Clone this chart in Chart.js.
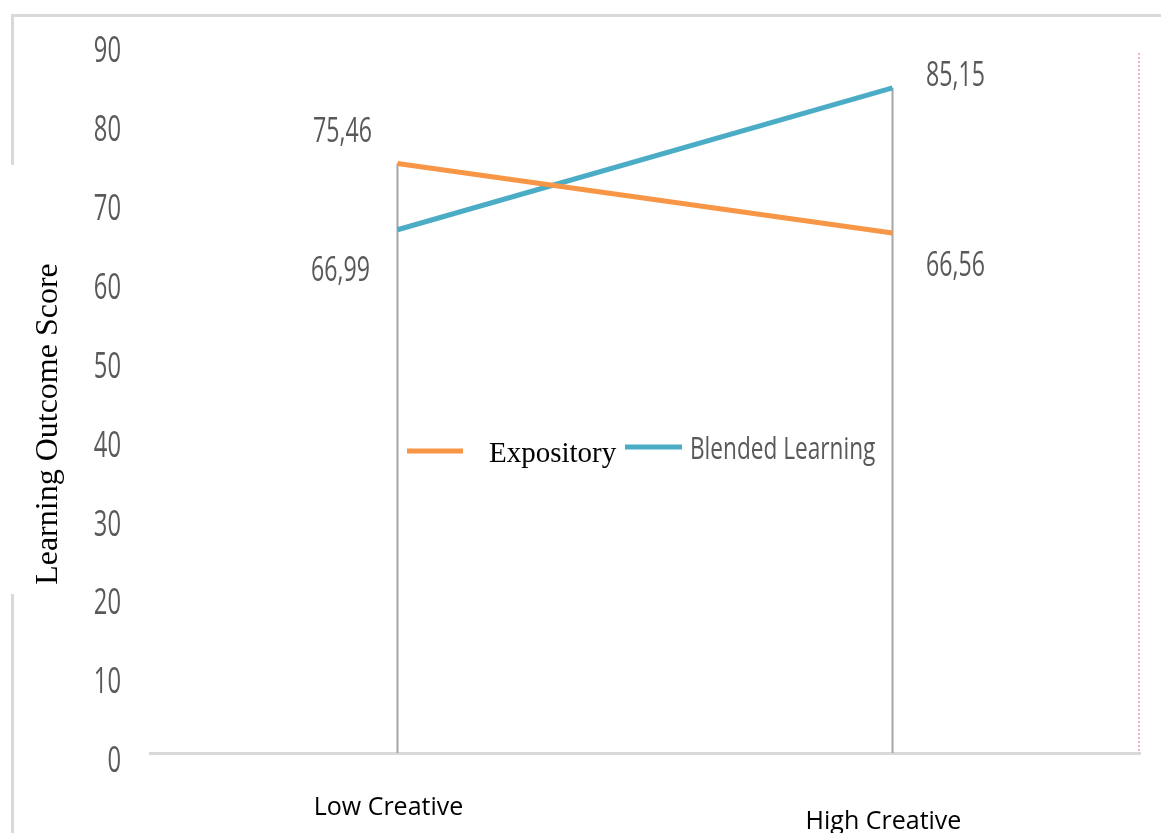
<!DOCTYPE html>
<html>
<head>
<meta charset="utf-8">
<script src="https://cdn.jsdelivr.net/npm/chart.js@4.4.1/dist/chart.umd.min.js"></script>
<style>
  html, body { margin: 0; padding: 0; background: #fff; }
  #wrap { position: relative; width: 1161px; height: 833px; overflow: hidden; }
  .frame { position: absolute; background: #d9d9d9; }
  #chart { position: absolute; left: 0; top: 0; }
</style>
</head>
<body>
<div id="wrap">
  <div class="frame" style="left:11px; top:14px; width:1150px; height:3px"></div>
  <div class="frame" style="left:11px; top:14px; width:3px; height:151px"></div>
  <div class="frame" style="left:11px; top:594px; width:3px; height:239px"></div>
  <canvas id="chart" width="1161" height="833"></canvas>
</div>
<script>
// data
var categories = ['Low Creative', 'High Creative'];
var expository = [75.46, 66.56];
var blended = [66.99, 85.15];
var seriesNames = ['Expository', 'Blended Learning'];
var yTitle = 'Learning Outcome Score';

var sansFont = "'Open Sans', sans-serif";
var serifFont = "'Liberation Serif', 'Times New Roman', serif";
var textGray = '#595959';
var orange = '#F79646';
var blue = '#4BACC6';

// label offsets from each point (dataset -> index)
var labelOffsets = [
  [{ dx: -55, dy: -31 }, { dx: 63, dy: 33 }],
  [{ dx: -57, dy: 42 }, { dx: 63, dy: -12 }]
];
// the category labels sit at slightly different heights
var catLabelY = [808, 822];

function fmt(v) {
  return v.toFixed(2).replace('.', ',');
}

// text squeezed horizontally (the original font is a condensed one)
function squeezed(ctx, text, x, y, size, sx, align) {
  ctx.save();
  ctx.font = size + 'px ' + sansFont;
  ctx.translate(x, y);
  ctx.scale(sx, 1);
  ctx.textAlign = align;
  ctx.textBaseline = 'middle';
  ctx.fillText(text, 0, 0);
  ctx.restore();
}

// vertical drop lines from the highest point to the axis
var dropLines = {
  id: 'dropLines',
  beforeDatasetsDraw: function(chart) {
    var ctx = chart.ctx;
    var area = chart.chartArea;
    var y = chart.scales.y;
    ctx.save();
    ctx.strokeStyle = '#a6a6a6';
    ctx.lineWidth = 2;
    categories.forEach(function(c, i) {
      var top = Math.max(expository[i], blended[i]);
      var x = chart.getDatasetMeta(0).data[i].x;
      ctx.beginPath();
      ctx.moveTo(x, y.getPixelForValue(top));
      ctx.lineTo(x, area.bottom);
      ctx.stroke();
    });
    // dotted edge on the right
    ctx.strokeStyle = 'rgba(220,70,80,0.8)';
    ctx.lineWidth = 1;
    ctx.setLineDash([2, 2]);
    ctx.beginPath();
    ctx.moveTo(area.right - 1, area.top + 3);
    ctx.lineTo(area.right - 1, area.bottom);
    ctx.stroke();
    ctx.restore();
  }
};

// axis texts, value labels and the in-plot legend
var texts = {
  id: 'texts',
  afterDatasetsDraw: function(chart) {
    var ctx = chart.ctx;
    var xs = chart.scales.x;
    var ys = chart.scales.y;
    ctx.save();
    ctx.fillStyle = textGray;

    // y tick labels (they drift a little below their value in the original)
    ys.ticks.forEach(function(t) {
      var drift = 9 - t.value * 0.08;
      squeezed(ctx, String(t.value), 121, ys.getPixelForValue(t.value) + drift, 36, 0.66, 'right');
    });

    // category labels
    ctx.fillStyle = '#000';
    ctx.font = '25px ' + sansFont;
    ctx.textAlign = 'center';
    ctx.textBaseline = 'middle';
    categories.forEach(function(c, i) {
      ctx.fillText(c, xs.getPixelForValue(i) - 9, catLabelY[i]);
    });

    // y title
    ctx.save();
    ctx.translate(49, 424);
    ctx.rotate(-Math.PI / 2);
    ctx.font = '32px ' + serifFont;
    ctx.fillText(yTitle, 0, 0);
    ctx.restore();

    // value labels
    ctx.fillStyle = textGray;
    chart.data.datasets.forEach(function(ds, d) {
      var meta = chart.getDatasetMeta(d);
      meta.data.forEach(function(pt, i) {
        var o = labelOffsets[d][i];
        squeezed(ctx, fmt(ds.data[i]), pt.x + o.dx, pt.y + o.dy, 34, 0.68, 'center');
      });
    });

    // legend
    ctx.lineWidth = 5;
    ctx.strokeStyle = orange;
    ctx.beginPath();
    ctx.moveTo(407, 451);
    ctx.lineTo(463, 451);
    ctx.stroke();
    ctx.strokeStyle = blue;
    ctx.beginPath();
    ctx.moveTo(625, 447);
    ctx.lineTo(682, 447);
    ctx.stroke();

    ctx.textAlign = 'left';
    ctx.textBaseline = 'alphabetic';
    ctx.fillStyle = '#000';
    ctx.font = '29px ' + serifFont;
    ctx.fillText(seriesNames[0], 489, 462);
    ctx.fillStyle = textGray;
    squeezed(ctx, seriesNames[1], 690, 450, 31, 0.73, 'left');
    ctx.restore();
  }
};

var ctx = document.getElementById('chart').getContext('2d');
var chart = new Chart(ctx, {
  type: 'line',
  data: {
    labels: categories,
    datasets: [{
      label: seriesNames[0],
      data: expository,
      borderColor: orange,
      backgroundColor: orange,
      borderWidth: 5,
      pointRadius: 0,
      tension: 0
    }, {
      label: seriesNames[1],
      data: blended,
      borderColor: blue,
      backgroundColor: blue,
      borderWidth: 5,
      pointRadius: 0,
      tension: 0
    }]
  },
  options: {
    responsive: false,
    animation: false,
    layout: { padding: { top: 50, right: 21, left: 0, bottom: 0 } },
    plugins: {
      legend: { display: false },
      tooltip: { enabled: false }
    },
    scales: {
      x: {
        offset: true,
        grid: { display: false },
        border: { display: true, color: '#d9d9d9', width: 3 },
        ticks: { display: false },
        afterFit: function(scale) { scale.height = 80; }
      },
      y: {
        min: 0,
        max: 90,
        grid: { display: false, drawTicks: false },
        border: { display: false },
        ticks: { display: false, stepSize: 10 },
        afterFit: function(scale) { scale.width = 150; }
      }
    }
  },
  plugins: [dropLines, texts]
});
</script>
</body>
</html>
